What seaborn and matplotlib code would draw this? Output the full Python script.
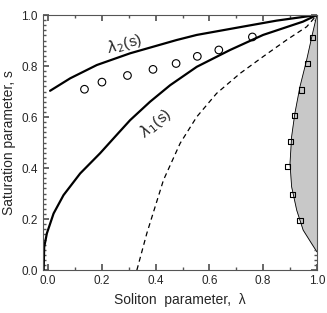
import numpy as np
import pandas as pd
import matplotlib
matplotlib.use("Agg")
import matplotlib.pyplot as plt
import seaborn as sns
from matplotlib.ticker import MultipleLocator

sns.set_theme(style="ticks")
plt.rcParams['font.family'] = ['Liberation Sans', 'DejaVu Sans']

# lambda_2(s) upper curve
lam2_x = [0.007, 0.082, 0.181, 0.305, 0.478, 0.553, 0.738, 0.85, 1.0]
lam2_s = [0.703, 0.752, 0.804, 0.850, 0.902, 0.922, 0.957, 0.978, 1.0]

# circles
circ_x = [0.135, 0.20, 0.295, 0.390, 0.476, 0.555, 0.635, 0.760]
circ_s = [0.709, 0.737, 0.763, 0.787, 0.810, 0.838, 0.863, 0.914]

# lambda_1(s) curve
lam1_x = [-0.017, -0.015, -0.005, 0.02, 0.057, 0.119, 0.193, 0.26, 0.305, 0.379,
          0.454, 0.553, 0.677, 0.80, 0.948, 1.0]
lam1_s = [0.0, 0.09, 0.144, 0.222, 0.294, 0.379, 0.458, 0.536, 0.588, 0.66,
          0.725, 0.797, 0.863, 0.922, 0.974, 1.0]

# dashed curve
dash_x = [0.330, 0.367, 0.429, 0.491, 0.553, 0.627, 0.714, 0.80, 0.887, 0.962, 1.0]
dash_s = [0.0, 0.144, 0.353, 0.497, 0.601, 0.693, 0.771, 0.837, 0.902, 0.954, 1.0]

# shaded region boundary
bnd_s = [1.0, 0.928, 0.824, 0.719, 0.614, 0.523, 0.418, 0.327, 0.235, 0.157, 0.105, 0.072]
bnd_x = [1.0, 0.984, 0.962, 0.937, 0.918, 0.906, 0.900, 0.906, 0.925, 0.949, 0.980, 1.0]

# squares
sq_x = [0.984, 0.964, 0.943, 0.918, 0.901, 0.890, 0.910, 0.937]
sq_s = [0.913, 0.81, 0.706, 0.605, 0.503, 0.405, 0.298, 0.196]

fig = plt.figure(figsize=(3.27, 3.13), dpi=100)
ax = fig.add_axes([0.131, 0.137, 0.838, 0.815])

ax.fill_betweenx(bnd_s, bnd_x, 1.0, color='#c8c8c8', zorder=1)
ax.plot(bnd_x, bnd_s, color='black', lw=0.6, zorder=2)

sns.lineplot(x=lam2_x, y=lam2_s, ax=ax, color='black', lw=1.6, sort=False, estimator=None)
sns.lineplot(x=lam1_x, y=lam1_s, ax=ax, color='black', lw=1.6, sort=False, estimator=None)
ax.plot(dash_x, dash_s, color='black', lw=0.9, ls=(0, (4, 3)))

sns.scatterplot(x=circ_x, y=circ_s, ax=ax, marker='o', s=30, facecolor='none',
                edgecolor='black', linewidth=0.8, zorder=3)
sns.scatterplot(x=sq_x, y=sq_s, ax=ax, marker='s', s=14, facecolor='none',
                edgecolor='black', linewidth=0.8, zorder=3)

ax.text(0.285, 0.885, r'$\lambda_2$(s)', fontsize=11, rotation=16, ha='center', va='center')
ax.text(0.40, 0.575, r'$\lambda_1$(s)', fontsize=11, rotation=40, ha='center', va='center')

ax.set_xlim(-0.02, 1.0)
ax.set_ylim(0.0, 1.0)
ax.xaxis.set_major_locator(MultipleLocator(0.2))
ax.xaxis.set_minor_locator(MultipleLocator(0.1))
ax.yaxis.set_major_locator(MultipleLocator(0.2))
ax.yaxis.set_minor_locator(MultipleLocator(0.02))
ax.tick_params(which='both', direction='in', top=True, right=True, labelsize=8.5, color='#555555')
ax.tick_params(which='major', length=4)
ax.tick_params(which='minor', length=2)
for sp in ax.spines.values():
    sp.set_color('#555555')
    sp.set_linewidth(0.8)

ax.set_xlabel('Soliton  parameter,  λ', fontsize=10)
ax.set_ylabel('Saturation parameter, s', fontsize=10)

fig.savefig('out.png', dpi=100)
